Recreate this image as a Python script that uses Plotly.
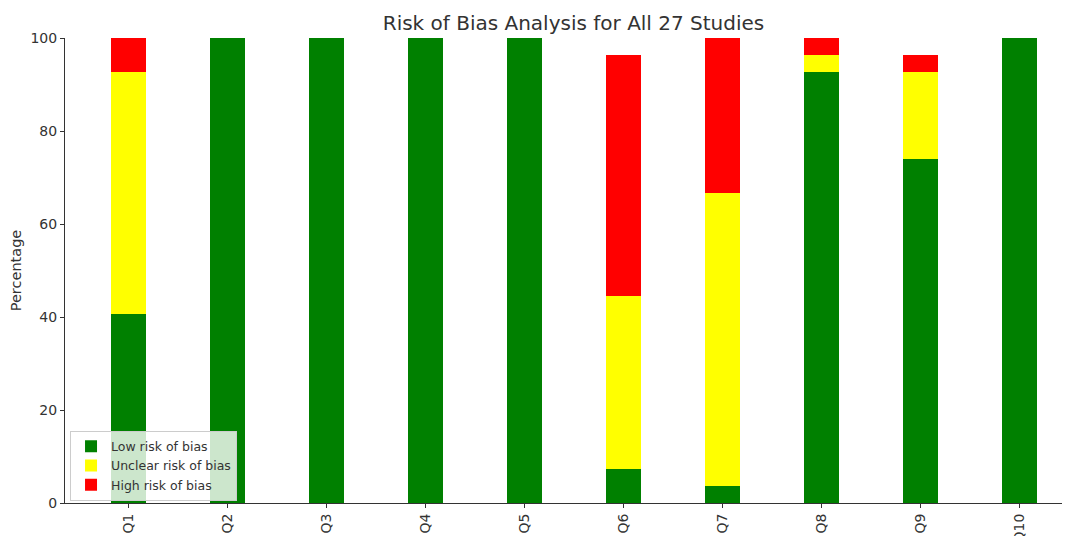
import plotly.graph_objects as go

questions = ["Q1", "Q2", "Q3", "Q4", "Q5", "Q6", "Q7", "Q8", "Q9", "Q10"]
n_studies = 27
low_counts = [11, 27, 27, 27, 27, 2, 1, 25, 20, 27]
unclear_counts = [14, 0, 0, 0, 0, 10, 17, 1, 5, 0]
high_counts = [2, 0, 0, 0, 0, 14, 9, 1, 1, 0]

low = [c / n_studies * 100 for c in low_counts]
unclear = [c / n_studies * 100 for c in unclear_counts]
high = [c / n_studies * 100 for c in high_counts]

series = [
    ("Low risk of bias", low, "#008000"),
    ("Unclear risk of bias", unclear, "#FFFF00"),
    ("High risk of bias", high, "#FF0000"),
]

fig = go.Figure()
xs = list(range(len(questions)))
for name, vals, color in series:
    fig.add_trace(go.Bar(
        x=xs, y=vals, name=name, width=0.35,
        marker=dict(color=color, line=dict(width=0)),
    ))

# page body has an 8px margin, so the figure is sized/offset to compensate
W, H = 1062, 528
font = "DejaVu Sans, sans-serif"
fig.update_layout(
    barmode="stack",
    width=W, height=H,
    margin=dict(l=57, r=0, t=30, b=33),
    paper_bgcolor="white", plot_bgcolor="white",
    font=dict(family=font, size=14, color="#333333"),
    title=dict(text="Risk of Bias Analysis for All 27 Studies", x=0.506, xref="paper",
               xanchor="center", y=1 - 15 / H, yanchor="middle",
               font=dict(size=20, color="#333333", family=font)),
    legend=dict(x=0.005, y=0.005, xanchor="left", yanchor="bottom",
                bgcolor="rgba(255,255,255,0.8)", bordercolor="#cccccc", borderwidth=1,
                font=dict(size=12.5, color="#333333", family=font),
                traceorder="normal", itemwidth=30),
    showlegend=True,
)
fig.update_xaxes(
    range=[-0.6425, 9.51], tickmode="array", tickvals=xs, ticktext=questions,
    tickangle=-90, showgrid=False, zeroline=False,
    showline=True, linecolor="#333333", linewidth=1,
    ticks="outside", ticklen=4, tickcolor="#333333",
    tickfont=dict(size=14, color="#333333"), automargin=False,
)
fig.update_yaxes(
    range=[0, 100], tickvals=[0, 20, 40, 60, 80, 100], showgrid=False, zeroline=False,
    showline=True, linecolor="#333333", linewidth=1,
    ticks="outside", ticklen=4, tickcolor="#333333",
    tickfont=dict(size=14, color="#333333"),
    title=dict(text="Percentage", font=dict(size=14.5, color="#333333"), standoff=14),
    automargin=False,
)
fig.write_html("out.html")
